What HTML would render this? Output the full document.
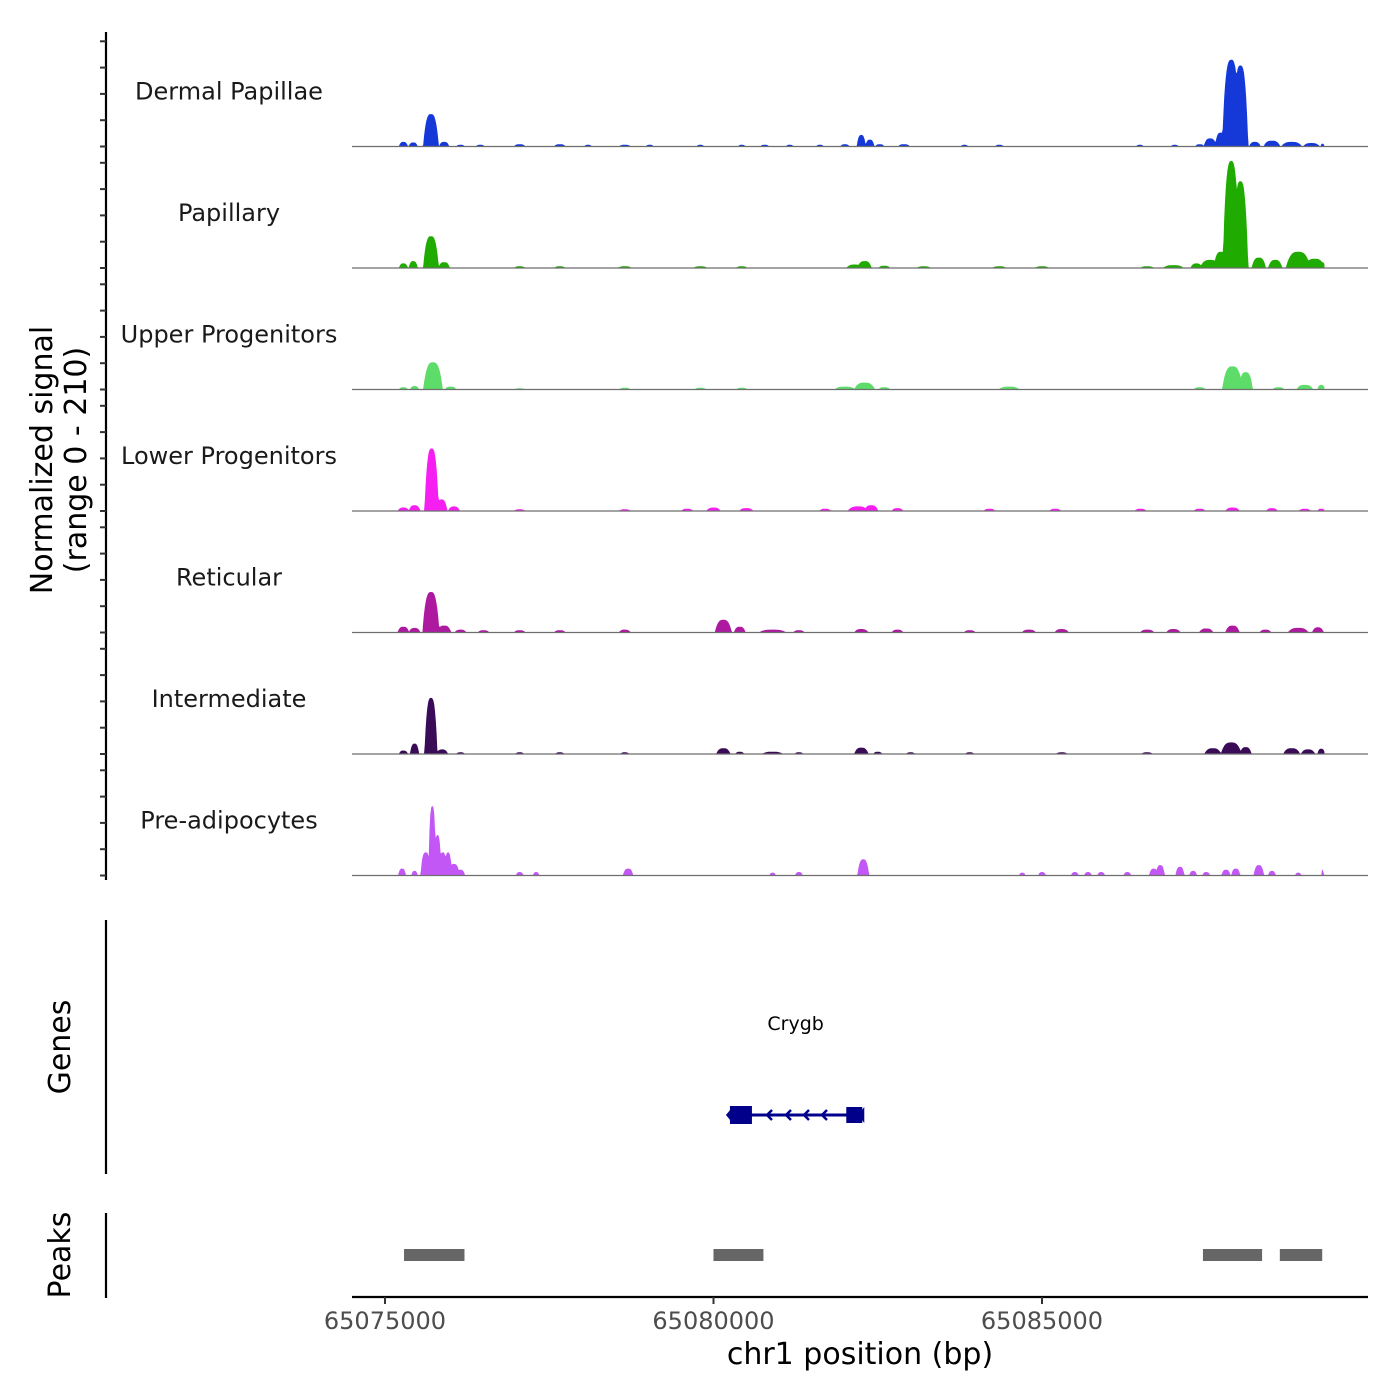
<!DOCTYPE html>
<html><head><meta charset="utf-8"><style>
html,body{margin:0;padding:0;background:#fff;}
svg{display:block;font-family:"DejaVu Sans","Liberation Sans",sans-serif;}
</style></head><body>
<svg id="chart" width="1400" height="1400" viewBox="0 0 1400 1400"></svg>
<script>
// ---- data ----
const trackNames = ["Dermal Papillae","Papillary","Upper Progenitors","Lower Progenitors","Reticular","Intermediate","Pre-adipocytes"];
const trackColors = ["#1539d9","#1fab00","#5ddc6a","#f41ff0","#ad1aa0","#3a0b56","#c257f6"];
// bumps: [center bp, signal value, half-width bp]
const dermalPapillae = [[65075280,8,70],[65075430,7,70],[65075700,56,120],[65075900,8,80],[65076150,3,70],[65076450,3,70],[65077050,4,90],[65077660,4,90],[65078090,3,60],[65078650,3,90],[65079030,3,60],[65079800,3,60],[65080430,3,60],[65080780,3,70],[65081160,3,60],[65081620,3,60],[65082000,4,70],[65082250,20,70],[65082380,12,70],[65082530,4,70],[65082900,4,90],[65083820,3,60],[65084350,3,70],[65086490,3,60],[65087020,3,60],[65087400,4,70],[65087560,14,100],[65087720,24,90],[65087880,150,140],[65088020,140,120],[65088240,8,90],[65088500,10,130],[65088800,8,160],[65089100,6,130],[65089270,5,30]];
const papillary = [[65075280,8,70],[65075430,12,70],[65075700,55,120],[65075900,10,90],[65077050,3,90],[65077660,3,90],[65078650,3,110],[65079800,3,110],[65080430,3,90],[65082150,6,130],[65082300,12,110],[65082600,4,90],[65083200,3,110],[65084350,3,110],[65085000,3,110],[65086600,3,110],[65087000,5,160],[65087350,8,90],[65087560,14,160],[65087720,28,110],[65087880,185,130],[65088020,150,120],[65088300,18,110],[65088550,14,110],[65088900,28,190],[65089150,16,160],[65089270,10,40]];
const upperProgenitors = [[65075280,4,70],[65075450,6,70],[65075730,47,150],[65076000,5,90],[65077050,2,90],[65078650,3,90],[65079800,3,90],[65080430,3,90],[65082000,5,160],[65082300,12,160],[65082600,4,90],[65084500,5,160],[65087400,4,90],[65087900,40,160],[65088100,30,110],[65088600,4,90],[65089000,8,130],[65089250,8,60]];
const lowerProgenitors = [[65075280,6,90],[65075450,10,90],[65075710,108,110],[65075860,20,90],[65076050,8,90],[65077050,3,90],[65078650,3,90],[65079600,4,90],[65080000,6,110],[65080500,5,110],[65081700,4,90],[65082200,8,160],[65082400,10,110],[65082800,5,90],[65084200,4,90],[65085200,4,90],[65086500,4,90],[65087400,4,90],[65087900,6,110],[65088500,5,90],[65089000,4,90],[65089250,4,60]];
const reticular = [[65075280,10,90],[65075450,8,90],[65075700,70,130],[65075900,12,110],[65076150,5,90],[65076500,4,90],[65077050,4,90],[65077660,4,90],[65078650,5,90],[65080150,22,130],[65080400,10,90],[65080900,5,210],[65081300,4,90],[65082250,6,110],[65082800,5,90],[65083900,4,90],[65084800,5,110],[65085300,6,110],[65086600,5,110],[65087000,6,110],[65087500,7,110],[65087900,12,110],[65088400,5,90],[65088900,8,160],[65089200,9,90]];
const intermediate = [[65075280,6,70],[65075450,18,70],[65075700,97,100],[65075870,8,90],[65076150,3,70],[65077050,3,70],[65077660,3,70],[65078650,3,70],[65080150,10,110],[65080400,4,70],[65080900,4,160],[65081300,3,70],[65082250,11,110],[65082500,4,70],[65083000,3,70],[65083900,3,70],[65085300,3,90],[65086600,3,90],[65087600,10,130],[65087880,20,160],[65088100,12,90],[65088800,10,130],[65089050,8,110],[65089250,9,60]];
const preAdipocytes = [[65075260,12,60],[65075450,8,50],[65075620,40,80],[65075720,120,60],[65075800,70,60],[65075880,40,70],[65075960,40,60],[65076050,20,90],[65076150,10,70],[65077050,6,60],[65077300,6,50],[65078700,12,80],[65080900,5,50],[65081300,6,60],[65082280,28,90],[65084700,5,50],[65085000,6,60],[65085500,6,60],[65085700,6,60],[65085900,6,60],[65086300,6,60],[65086700,12,70],[65086800,18,70],[65087100,15,70],[65087300,8,60],[65087500,6,60],[65087800,10,70],[65087950,12,70],[65088300,18,80],[65088500,8,60],[65088900,5,50],[65089270,10,20]];
const trackData = [dermalPapillae,papillary,upperProgenitors,lowerProgenitors,reticular,intermediate,preAdipocytes];
const peakStarts = [65075290,65080000,65087450,65088620];
const peakEnds = [65076210,65080760,65088350,65089265];
const xTicks = [65075000,65080000,65085000];
const yMax = 210;
const geneName = "Crygb";
const geneStart = 65080220, geneEnd = 65082280;

// ---- scales ----
const X0=352, X1=1368, D0=65074498, D1=65089962;
const xs = bp => X0 + (bp-D0)/(D1-D0)*(X1-X0);
const trackH = 121.5, firstBase = 146.5;
const ys = (i,v) => firstBase + i*trackH - v/yMax*trackH;

const svg = document.getElementById('chart');
const NS = "http://www.w3.org/2000/svg";
function mk(tag, attrs, parent){const e=document.createElementNS(NS,tag);for(const k in attrs)e.setAttribute(k,attrs[k]);(parent||svg).appendChild(e);return e;}

// left axis
const ax = mk('line',{x1:106,y1:32,x2:106,y2:880,stroke:'#000','stroke-width':2.2});


for(let i=0;i<7;i++){for(let k=0;k<5;k++){const y=firstBase+i*trackH-k*26.3;
 const t=mk('line',{x1:100,y1:y,x2:106,y2:y,stroke:'#333','stroke-width':2});
 
 }}
const yt = mk('text',{transform:'translate(52,460) rotate(-90)','text-anchor':'middle','font-size':30,fill:'#000'});


mk('tspan',{x:0,dy:0},yt).textContent='Normalized signal';
mk('tspan',{x:0,dy:34},yt).textContent='(range 0 - 210)';

// tracks
trackData.forEach((bumps,i)=>{
  const g = mk('g',{});
  
  
  const step=12; let d=''; const base=ys(i,0);
  d+='M'+xs(65075150)+','+base;
  for(let bp=65075150; bp<=65089300; bp+=step){
    let v=0; for(const [c,h,w] of bumps){const r=Math.abs(bp-c)/w; if(r<1){const val=h*(1-r*r*r); if(val>v)v=val;}}
    d+='L'+xs(bp).toFixed(1)+','+ys(i,v).toFixed(1);
  }
  d+='L'+xs(65089300)+','+base+'Z';
  const p=mk('path',{d:d,fill:trackColors[i]},g);
  
  
  const bl=mk('line',{x1:X0,y1:base,x2:X1,y2:base,stroke:'#6e6e6e','stroke-width':1.2},g);
  
  
  const lb=mk('text',{x:229,y:base-47,'text-anchor':'middle','font-size':24,fill:'#1a1a1a'},g);
  
  
  lb.textContent=trackNames[i];
});

// genes panel
const ga = mk('line',{x1:106,y1:920,x2:106,y2:1174,stroke:'#000','stroke-width':2.2});


const gt = mk('text',{transform:'translate(70,1047) rotate(-90)','text-anchor':'middle','font-size':30,fill:'#000'});


gt.textContent='Genes';
const gg = mk('g',{});


const gx0=xs(geneStart), gx1=xs(geneEnd), gy=1115;
mk('line',{x1:gx0,y1:gy,x2:gx1,y2:gy,stroke:'#00008b','stroke-width':3},gg);
mk('rect',{x:gx0+2,y:gy-9,width:22,height:18,fill:'#00008b'},gg);
mk('rect',{x:gx1-17,y:gy-8,width:16,height:16,fill:'#00008b'},gg);
mk('path',{d:`M${gx0+3},${gy-6}L${gx0-2},${gy}L${gx0+3},${gy+6}Z`,fill:'#00008b'},gg);
mk('path',{d:`M${gx1+1},${gy-8}L${gx1-5},${gy}L${gx1+1},${gy+8}Z`,fill:'#00008b'},gg);
[768,787,805,823].forEach(cx=>mk('path',{d:`M${cx+4},${gy-5}L${cx-1},${gy}L${cx+4},${gy+5}`,stroke:'#00008b','stroke-width':2.5,fill:'none'},gg));
const gl = mk('text',{x:(gx0+gx1)/2,y:1030,'text-anchor':'middle','font-size':19,fill:'#000'});


gl.textContent=geneName;

// peaks panel
const pa = mk('line',{x1:106,y1:1213,x2:106,y2:1298,stroke:'#000','stroke-width':2.2});


const pt = mk('text',{transform:'translate(70,1255) rotate(-90)','text-anchor':'middle','font-size':30,fill:'#000'});


pt.textContent='Peaks';
peakStarts.forEach((s,i)=>{
  const r=mk('rect',{x:xs(s),y:1249,width:xs(peakEnds[i])-xs(s),height:12,fill:'#666'});
  
  
});

// x axis
const xa = mk('line',{x1:X0,y1:1297,x2:X1,y2:1297,stroke:'#000','stroke-width':2.2});


xTicks.forEach(t=>{
  const tk=mk('line',{x1:xs(t),y1:1297,x2:xs(t),y2:1304,stroke:'#333','stroke-width':2});
  
  
  const tl=mk('text',{x:xs(t),y:1329,'text-anchor':'middle','font-size':24,fill:'#4d4d4d'});
  
  
  tl.textContent=t;
});
const xt = mk('text',{x:860,y:1364,'text-anchor':'middle','font-size':30,fill:'#000'});


xt.textContent='chr1 position (bp)';
</script>
</body></html>
